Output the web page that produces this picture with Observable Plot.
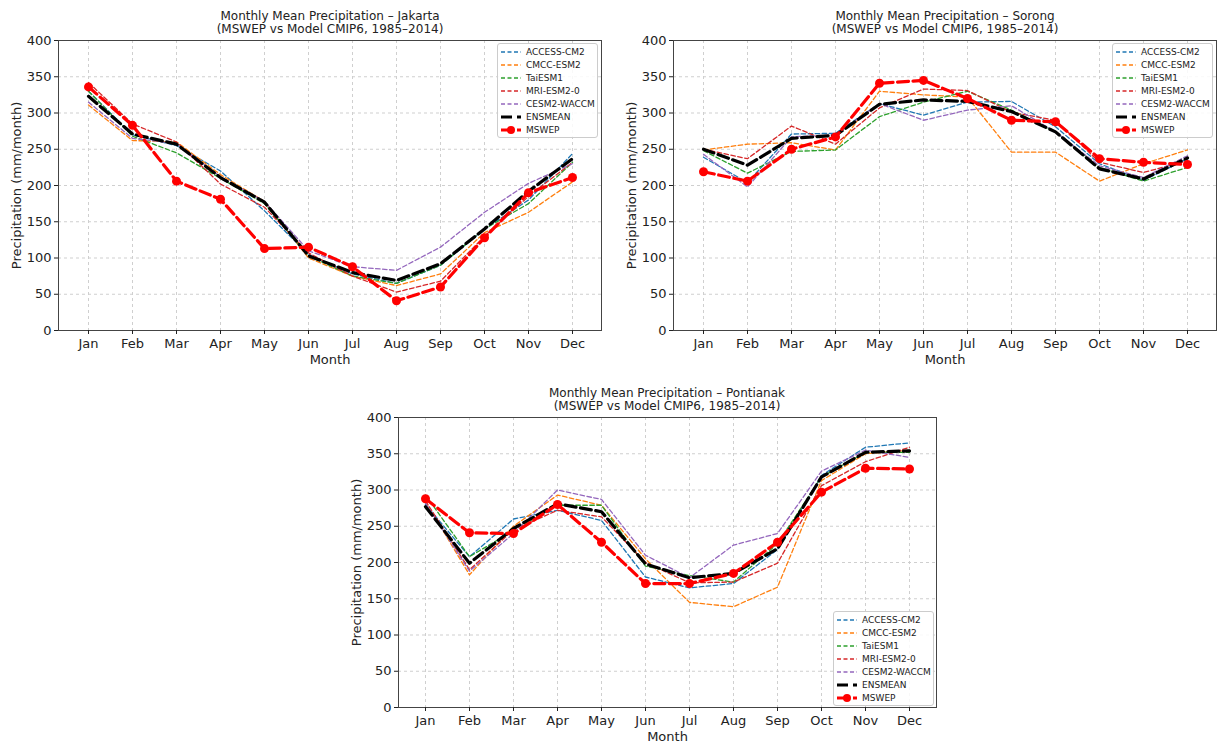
<!DOCTYPE html>
<html><head><meta charset="utf-8">
<script src="https://cdn.jsdelivr.net/npm/d3@7"></script>
<script src="https://cdn.jsdelivr.net/npm/@observablehq/plot@0.6"></script>
<style>
body{margin:0;width:1220px;height:745px;overflow:hidden;background:#fff;font-family:"DejaVu Sans",sans-serif;position:relative;}
.panel{position:absolute;}
.panel svg{max-width:none !important;}
.title{position:absolute;text-align:center;font-size:12px;line-height:13px;color:#222;white-space:nowrap;transform:translateX(-50%);}
.legend{position:absolute;width:101px;border:1px solid #ccc;border-radius:3px;background:rgba(255,255,255,0.85);padding:1px 3px 1px 3px;font-size:9px;color:#222;box-sizing:border-box;}
.legend .row{height:13px;display:flex;align-items:center;white-space:nowrap;}
.legend svg{margin-right:5px;flex:none;}
</style></head><body>
<script>
const months = ["Jan","Feb","Mar","Apr","May","Jun","Jul","Aug","Sep","Oct","Nov","Dec"];
const yTicks = [0,50,100,150,200,250,300,350,400];
const seriesNames = ["ACCESS-CM2","CMCC-ESM2","TaiESM1","MRI-ESM2-0","CESM2-WACCM","ENSMEAN","MSWEP"];
const seriesColors = ["#1f77b4","#ff7f0e","#2ca02c","#d62728","#9467bd","#000000","#ff0000"];

// Jakarta
const jakartaAccess = [330,270,255,220,165,105,78,65,90,140,180,244];
const jakartaCmcc   = [311,262,260,215,178,100,75,62,78,135,163,205];
const jakartaTai    = [330,268,245,210,175,103,75,65,90,140,175,232];
const jakartaMri    = [342,285,260,202,170,107,75,53,68,130,185,232];
const jakartaCesm   = [315,265,258,212,178,110,88,83,115,163,203,230];
const jakartaEns    = [323,271,257,211,177,103,80,69,92,140,192,237];
const jakartaMswep  = [336,283,206,181,113,115,88,41,60,128,190,211];

// Sorong
const sorongAccess = [239,204,271,272,313,297,315,316,281,230,207,237];
const sorongCmcc   = [249,257,259,249,330,325,322,246,246,206,230,249];
const sorongTai    = [248,217,247,249,295,315,330,304,274,225,206,225];
const sorongMri    = [250,237,282,257,307,333,331,301,290,232,218,234];
const sorongCesm   = [243,198,267,270,313,290,304,310,274,227,211,241];
const sorongEns    = [250,228,265,269,312,318,316,302,274,223,209,238];
const sorongMswep  = [219,206,250,267,341,345,320,290,288,237,232,229];

// Pontianak
const pontAccess = [280,208,260,272,258,180,165,171,218,320,359,365];
const pontCmcc   = [284,183,250,293,279,205,145,139,166,313,350,355];
const pontTai    = [293,208,244,279,279,195,182,173,226,318,352,352];
const pontMri    = [285,190,245,272,263,200,172,173,199,306,339,359];
const pontCesm   = [282,188,240,300,287,210,179,224,240,326,355,345];
const pontEns    = [277,199,247,281,270,198,179,185,219,318,352,354];
const pontMswep  = [288,241,240,280,228,171,171,185,228,297,330,329];

const styles = [
  {w:1.3, dash:"4.5,2.5"},{w:1.3, dash:"4.5,2.5"},{w:1.3, dash:"4.5,2.5"},
  {w:1.3, dash:"4.5,2.5"},{w:1.3, dash:"4.5,2.5"},
  {w:3.2, dash:"11,4.5"},{w:3.2, dash:"11,4.5"}
];

function rows(arr){ return months.map((m,j)=>({month:m, value:arr[j]})); }

function makePanel(cfg){
  const marks = [
    Plot.gridX(months, {stroke:"#cfcfcf", strokeOpacity:1, strokeDasharray:"3,3"}),
    Plot.gridY(yTicks, {stroke:"#cfcfcf", strokeOpacity:1, strokeDasharray:"3,3"}),
    Plot.frame({stroke:"#444", strokeWidth:1}),
    Plot.axisX({tickSize:4, tickPadding:4, label:"Month", labelAnchor:"center", labelArrow:"none", labelOffset:33}),
    Plot.axisY({ticks:yTicks, tickSize:4, tickPadding:3, label:"Precipitation (mm/month)", labelAnchor:"center", labelArrow:"none", labelOffset:47})
  ];
  cfg.series.forEach((arr,i)=>{
    marks.push(Plot.line(rows(arr), {x:"month", y:"value", stroke:seriesColors[i], strokeWidth:styles[i].w, strokeDasharray:styles[i].dash}));
  });
  marks.push(Plot.dot(rows(cfg.series[6]), {x:"month", y:"value", fill:seriesColors[6], r:4.5}));
  const chart = Plot.plot({
    width: cfg.width, height: cfg.height,
    marginTop: cfg.mt, marginBottom: cfg.mb, marginLeft: cfg.ml, marginRight: cfg.mr,
    style:{fontFamily:"DejaVu Sans", fontSize:"13px", color:"#222", background:"transparent", overflow:"visible", maxWidth:"none"},
    x:{type:"point", domain:months, padding:0.58},
    y:{domain:[0,400]},
    marks
  });
  const wrap = document.createElement("div");
  wrap.className = "panel";
  wrap.style.left = cfg.left+"px"; wrap.style.top = cfg.top+"px";
  wrap.style.width = cfg.width+"px"; wrap.style.height = cfg.height+"px";
  wrap.appendChild(chart);
  document.body.appendChild(wrap);

  const t = document.createElement("div");
  t.className = "title";
  t.style.left = cfg.titleX+"px"; t.style.top = cfg.titleY+"px";
  t.innerHTML = cfg.title + "<br>(MSWEP vs Model CMIP6, 1985–2014)";
  document.body.appendChild(t);

  const lg = document.createElement("div");
  lg.className = "legend";
  lg.style.left = cfg.legX+"px"; lg.style.top = cfg.legY+"px";
  seriesNames.forEach((n,i)=>{
    const r = document.createElement("div"); r.className="row";
    let svg = `<svg width="20" height="10"><line x1="0" y1="5" x2="20" y2="5" stroke="${seriesColors[i]}" stroke-width="${i>=5?3:1.3}" stroke-dasharray="${i>=5?'11,5':'4,2.5'}"/>`;
    if(i===6) svg += `<circle cx="10" cy="5" r="4" fill="${seriesColors[6]}"/>`;
    svg += `</svg>`;
    r.innerHTML = svg + `<span>${n}</span>`;
    lg.appendChild(r);
  });
  document.body.appendChild(lg);
}

makePanel({left:0, top:0, width:610, height:370, mt:40, mb:40, ml:58, mr:9,
  series:[jakartaAccess,jakartaCmcc,jakartaTai,jakartaMri,jakartaCesm,jakartaEns,jakartaMswep],
  title:"Monthly Mean Precipitation – Jakarta", titleX:330, titleY:10, legX:497, legY:43});
makePanel({left:615, top:0, width:610, height:370, mt:40, mb:40, ml:58, mr:9,
  series:[sorongAccess,sorongCmcc,sorongTai,sorongMri,sorongCesm,sorongEns,sorongMswep],
  title:"Monthly Mean Precipitation – Sorong", titleX:945, titleY:10, legX:1112, legY:43});
makePanel({left:340, top:377, width:605, height:368, mt:40, mb:38, ml:58, mr:9,
  series:[pontAccess,pontCmcc,pontTai,pontMri,pontCesm,pontEns,pontMswep],
  title:"Monthly Mean Precipitation – Pontianak", titleX:667, titleY:387, legX:833, legY:611});
</script>
</body></html>
